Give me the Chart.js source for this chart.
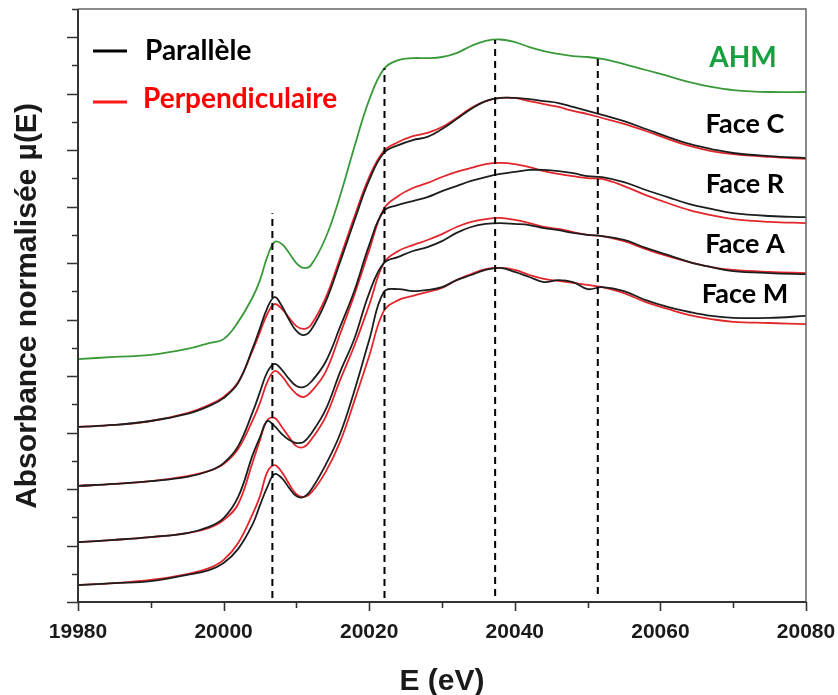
<!DOCTYPE html>
<html>
<head>
<meta charset="utf-8">
<script src="https://cdn.jsdelivr.net/npm/chart.js@4.4.1/dist/chart.umd.min.js"></script>
<style>
  html, body { margin: 0; padding: 0; background: #fff; }
  canvas { display: block; }
</style>
</head>
<body>
<canvas id="xanes" width="838" height="695"></canvas>
<script>
// energie (eV)
const energy = [19980, 19985, 19990, 19995, 19998, 20000, 20002, 20004, 20005, 20006, 20007, 20008, 20009, 20010, 20011, 20012, 20014, 20016, 20018, 20020, 20022, 20024, 20026, 20028, 20030, 20032, 20034, 20036, 20038, 20040, 20042, 20044, 20046, 20048, 20050, 20052, 20055, 20058, 20061, 20064, 20067, 20070, 20075, 20080];

// absorbance normalisee, spectres decales
const ahm = [8.60, 8.68, 8.75, 8.96, 9.17, 9.31, 9.92, 10.80, 11.40, 12.22, 12.75, 12.68, 12.36, 12.00, 11.83, 11.93, 12.89, 14.38, 16.15, 17.78, 18.87, 19.19, 19.26, 19.26, 19.30, 19.44, 19.69, 19.87, 19.92, 19.83, 19.65, 19.51, 19.41, 19.33, 19.30, 19.23, 19.05, 18.84, 18.63, 18.41, 18.24, 18.13, 18.06, 18.06];

const faceCPar = [6.20, 6.27, 6.41, 6.66, 6.94, 7.22, 7.76, 8.99, 9.70, 10.41, 10.80, 10.48, 9.99, 9.60, 9.45, 9.63, 10.62, 12.04, 13.53, 14.94, 15.90, 16.18, 16.36, 16.47, 16.75, 17.10, 17.46, 17.74, 17.85, 17.85, 17.81, 17.74, 17.67, 17.53, 17.39, 17.25, 17.03, 16.75, 16.47, 16.22, 16.04, 15.90, 15.79, 15.72];
const faceCPerp = [6.20, 6.27, 6.41, 6.69, 6.98, 7.26, 7.79, 8.92, 9.56, 10.20, 10.55, 10.38, 10.06, 9.77, 9.67, 9.81, 10.76, 12.18, 13.67, 15.05, 15.97, 16.29, 16.50, 16.61, 16.82, 17.14, 17.49, 17.74, 17.85, 17.85, 17.74, 17.63, 17.53, 17.39, 17.28, 17.14, 16.93, 16.68, 16.40, 16.15, 15.97, 15.86, 15.76, 15.69];

const faceRPar = [4.11, 4.18, 4.28, 4.43, 4.64, 4.92, 5.52, 6.73, 7.44, 8.14, 8.43, 8.22, 7.90, 7.65, 7.61, 7.79, 8.50, 9.74, 11.05, 12.64, 13.85, 14.06, 14.20, 14.34, 14.55, 14.73, 14.91, 15.05, 15.16, 15.23, 15.30, 15.30, 15.26, 15.19, 15.08, 15.05, 14.87, 14.59, 14.34, 14.09, 13.92, 13.77, 13.67, 13.63];
const faceRPerp = [4.11, 4.18, 4.28, 4.46, 4.64, 4.89, 5.42, 6.44, 7.05, 7.79, 8.18, 8.00, 7.65, 7.37, 7.26, 7.44, 8.14, 9.49, 10.91, 12.46, 13.92, 14.38, 14.66, 14.84, 15.05, 15.23, 15.37, 15.51, 15.55, 15.51, 15.40, 15.26, 15.16, 15.08, 15.01, 14.98, 14.73, 14.41, 14.13, 13.88, 13.70, 13.56, 13.46, 13.42];

const faceAPar = [2.12, 2.20, 2.30, 2.44, 2.66, 2.97, 3.72, 5.21, 5.84, 6.41, 6.23, 5.95, 5.74, 5.63, 5.67, 5.95, 6.80, 8.14, 9.35, 10.94, 12.00, 12.22, 12.43, 12.57, 12.78, 13.07, 13.28, 13.39, 13.42, 13.39, 13.35, 13.24, 13.17, 13.07, 13.00, 12.96, 12.82, 12.54, 12.29, 12.04, 11.86, 11.72, 11.65, 11.61];
const faceAPerp = [2.12, 2.20, 2.30, 2.44, 2.62, 2.90, 3.47, 4.96, 5.74, 6.44, 6.52, 6.20, 5.84, 5.52, 5.49, 5.74, 6.55, 7.86, 9.10, 10.52, 12.00, 12.43, 12.64, 12.82, 13.03, 13.28, 13.46, 13.56, 13.60, 13.53, 13.42, 13.28, 13.21, 13.10, 13.00, 12.96, 12.78, 12.50, 12.25, 12.04, 11.86, 11.76, 11.69, 11.65];

const faceMPar = [0.60, 0.67, 0.74, 0.96, 1.13, 1.38, 1.88, 2.76, 3.43, 4.07, 4.53, 4.39, 4.04, 3.75, 3.72, 3.97, 4.85, 5.95, 7.51, 9.28, 10.98, 11.08, 11.01, 11.05, 11.15, 11.40, 11.58, 11.76, 11.83, 11.69, 11.51, 11.33, 11.40, 11.33, 11.08, 11.15, 11.01, 10.69, 10.45, 10.27, 10.13, 10.06, 10.06, 10.13];
const faceMPerp = [0.60, 0.67, 0.78, 0.99, 1.20, 1.49, 2.09, 3.12, 3.75, 4.60, 4.85, 4.60, 4.18, 3.82, 3.72, 3.86, 4.60, 5.67, 7.15, 8.71, 10.30, 10.69, 10.84, 10.98, 11.12, 11.40, 11.61, 11.79, 11.83, 11.76, 11.58, 11.44, 11.37, 11.30, 11.23, 11.15, 10.94, 10.62, 10.38, 10.16, 10.02, 9.92, 9.88, 9.84];

// traits verticaux pointilles
const markerE = [20006.7, 20022.1, 20037.3, 20051.4];
const markerTop = [13.77, 18.91, 19.90, 19.26];
const markerBottom = [0.14, 0.14, 0.21, 0.28];

const xTicks = [19980, 20000, 20020, 20040, 20060, 20080];
const faceLabels = ['Face C', 'Face R', 'Face A', 'Face M'];
const faceLabelY = [133, 193, 253, 303];

const BLACK = '#1e1e1e';
const RED = '#e3262b';
const GREEN = '#3a9a3a';

const pts = (arr) => energy.map((e, i) => ({ x: e, y: arr[i] }));
const curve = (arr, color, order) => ({
  data: pts(arr), borderColor: color, borderWidth: 1.8, pointRadius: 0,
  tension: 0.4, fill: false, order,
});

const datasets = [
  curve(ahm, GREEN, 1),
  curve(faceCPerp, RED, 2), curve(faceCPar, BLACK, 1),
  curve(faceRPerp, RED, 2), curve(faceRPar, BLACK, 1),
  curve(faceAPerp, RED, 2), curve(faceAPar, BLACK, 1),
  curve(faceMPerp, RED, 2), curve(faceMPar, BLACK, 1),
  ...markerE.map((e, i) => ({
    data: [{ x: e, y: markerBottom[i] }, { x: e, y: markerTop[i] }],
    borderColor: '#000', borderWidth: 2, borderDash: [7, 5], pointRadius: 0, tension: 0, order: 0,
  })),
];

const decor = {
  id: 'decor',
  afterDraw(chart) {
    const { ctx, chartArea: a, scales: { x, y } } = chart;
    ctx.save();
    // cadre
    ctx.strokeStyle = '#666';
    ctx.lineWidth = 1.5;
    ctx.beginPath();
    ctx.moveTo(a.left, a.top); ctx.lineTo(a.right, a.top); ctx.lineTo(a.right, a.bottom);
    ctx.stroke();
    ctx.strokeStyle = '#333';
    ctx.lineWidth = 2;
    ctx.beginPath();
    ctx.moveTo(a.left, a.top); ctx.lineTo(a.left, a.bottom); ctx.lineTo(a.right, a.bottom);
    ctx.stroke();
    // graduations
    ctx.lineWidth = 1.6;
    ctx.beginPath();
    for (let v = 0; v <= 21; v++) {
      const py = Math.round(y.getPixelForValue(v)) + 0.5;
      ctx.moveTo(a.left - (v % 2 === 0 ? 11 : 6), py); ctx.lineTo(a.left, py);
    }
    for (let e = 19980; e <= 20080; e += 10) {
      const px = Math.round(x.getPixelForValue(e)) + 0.5;
      ctx.moveTo(px, a.bottom); ctx.lineTo(px, a.bottom + ((e - 19980) % 20 === 0 ? 9 : 6));
    }
    ctx.stroke();
    // etiquettes
    ctx.fillStyle = '#1a1a1a';
    ctx.font = 'bold 21px "Liberation Sans", Arial, sans-serif';
    ctx.textAlign = 'center';
    ctx.textBaseline = 'alphabetic';
    xTicks.forEach((e) => ctx.fillText(String(e), x.getPixelForValue(e), 638));
    ctx.font = 'bold 30px "Liberation Sans", Arial, sans-serif';
    ctx.fillText('E (eV)', 442, 690);
    ctx.save();
    ctx.translate(36, 306);
    ctx.rotate(-Math.PI / 2);
    ctx.fillText('Absorbance normalisée µ(E)', 0, 0);
    ctx.restore();
    // legende
    ctx.lineWidth = 3;
    ctx.strokeStyle = '#000';
    ctx.beginPath(); ctx.moveTo(93, 51); ctx.lineTo(127, 51); ctx.stroke();
    ctx.strokeStyle = '#ff1a1a';
    ctx.beginPath(); ctx.moveTo(93, 102); ctx.lineTo(127, 102); ctx.stroke();
    ctx.textAlign = 'left';
    ctx.font = 'bold 28px Lato, "Open Sans", sans-serif';
    ctx.fillStyle = '#000';
    ctx.fillText('Parallèle', 145, 60);
    ctx.fillStyle = '#ff0000';
    ctx.fillText('Perpendiculaire', 143, 108);
    ctx.textAlign = 'center';
    ctx.fillStyle = '#18a040';
    ctx.fillText('AHM', 743, 67);
    ctx.fillStyle = '#000';
    ctx.font = 'bold 27px Lato, "Open Sans", sans-serif';
    faceLabels.forEach((t, i) => ctx.fillText(t, 745, faceLabelY[i]));
    ctx.restore();
  },
};

new Chart(document.getElementById('xanes'), {
  type: 'line',
  data: { datasets },
  options: {
    responsive: false,
    animation: false,
    devicePixelRatio: 1,
    layout: { padding: { left: 78, right: 32, top: 9, bottom: 93 } },
    plugins: { legend: { display: false }, tooltip: { enabled: false } },
    scales: {
      x: { type: 'linear', min: 19980, max: 20080, display: false },
      y: { type: 'linear', min: 0, max: 21, display: false },
    },
  },
  plugins: [decor],
});
</script>
</body>
</html>
